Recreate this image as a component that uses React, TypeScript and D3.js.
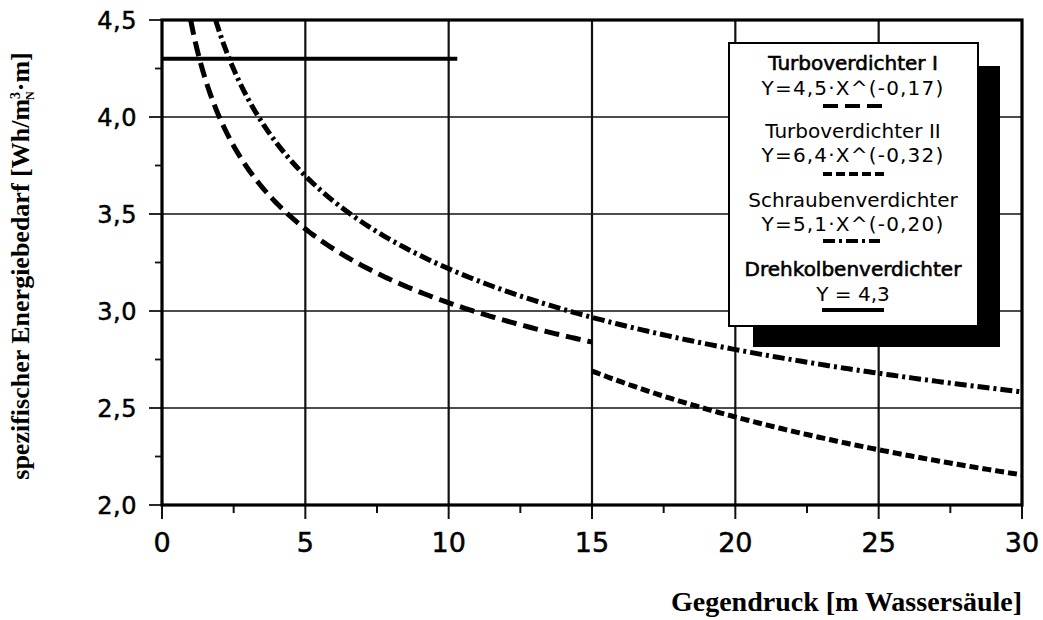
import React from "react";
import * as d3 from "d3";

// Axis ticks
const xTickValues = [0, 5, 10, 15, 20, 25, 30];
const xTickLabels = ["0", "5", "10", "15", "20", "25", "30"];
const xMinorTicks = [2.5, 7.5, 12.5, 17.5, 22.5, 27.5];
const yTickValues = [2.0, 2.5, 3.0, 3.5, 4.0, 4.5];
const yTickLabels = ["2,0", "2,5", "3,0", "3,5", "4,0", "4,5"];
const yMinorTicks = [2.25, 2.75, 3.25, 3.75, 4.25];

// Compressor fits Y = a · X^b, each valid over its own pressure range
const seriesNames = ["Turboverdichter I", "Turboverdichter II", "Schraubenverdichter"];
const seriesCoeff = [4.5, 6.4, 5.1];
const seriesExponent = [-0.17, -0.32, -0.2];
const seriesStart = [1.0, 15, 1.87];
const seriesEnd = [15, 30, 30];
const seriesDash = ["15 7", "9 4", "12 4 3 4"];
const seriesFormula = ["Y=4,5·X^(-0,17)", "Y=6,4·X^(-0,32)", "Y=5,1·X^(-0,20)"];

// Rotary lobe blower: constant demand up to about 10 m
const drehkolbenName = "Drehkolbenverdichter";
const drehkolbenFormula = "Y = 4,3";
const drehkolbenValue = 4.3;
const drehkolbenEnd = 10.3;

const W = 1043;
const H = 620;

export default function App() {
  const x = d3.scaleLinear().domain([0, 30]).range([162, 1022]);
  const y = d3.scaleLinear().domain([2.0, 4.5]).range([505, 20]);
  const line = d3
    .line<[number, number]>()
    .x((d) => x(d[0]))
    .y((d) => y(d[1]))
    .curve(d3.curveLinear);

  const curves = seriesNames.map((name, i) => {
    const n = 200;
    const pts: [number, number][] = [];
    for (let k = 0; k <= n; k++) {
      const xv = seriesStart[i] + ((seriesEnd[i] - seriesStart[i]) * k) / n;
      pts.push([xv, seriesCoeff[i] * Math.pow(xv, seriesExponent[i])]);
    }
    return { name, d: line(pts) as string, dash: seriesDash[i] };
  });

  const [x0, x1] = x.range();
  const [yb, yt] = y.range();
  const sans = "'DejaVu Sans', sans-serif";
  const serif = "'Liberation Serif', 'Times New Roman', serif";

  return (
    <div style={{ position: "fixed", left: 0, top: 0 }}>
      <svg width={W} height={H} viewBox={`0 0 ${W} ${H}`} style={{ display: "block", background: "#fff" }}>
        <rect x={0} y={0} width={W} height={H} fill="#fff" />
        <defs>
          <clipPath id="plot-clip">
            <rect x={x0} y={yt} width={x1 - x0} height={yb - yt} />
          </clipPath>
        </defs>

        {/* horizontal grid */}
        {yTickValues.slice(1, -1).map((v) => (
          <line key={"gy" + v} x1={x0} x2={x1} y1={y(v)} y2={y(v)} stroke="#111" strokeWidth={1.6} />
        ))}
        {/* vertical grid */}
        {xTickValues.slice(1, -1).map((v) => (
          <line key={"gx" + v} x1={x(v)} x2={x(v)} y1={yt} y2={yb} stroke="#111" strokeWidth={2.2} />
        ))}

        {/* major / minor ticks */}
        {yTickValues.map((v) => (
          <line key={"ty" + v} x1={x0 - 13} x2={x0} y1={y(v)} y2={y(v)} stroke="#111" strokeWidth={1.8} />
        ))}
        {yMinorTicks.map((v) => (
          <line key={"tym" + v} x1={x0 - 7} x2={x0} y1={y(v)} y2={y(v)} stroke="#111" strokeWidth={1.8} />
        ))}
        {xTickValues.map((v) => (
          <line key={"tx" + v} x1={x(v)} x2={x(v)} y1={yb} y2={yb + 14} stroke="#111" strokeWidth={2} />
        ))}
        {xMinorTicks.map((v) => (
          <line key={"txm" + v} x1={x(v)} x2={x(v)} y1={yb} y2={yb + 8} stroke="#111" strokeWidth={2} />
        ))}

        {/* data */}
        <g clipPath="url(#plot-clip)">
          {curves.map((c) => (
            <path key={c.name} d={c.d} fill="none" stroke="#000" strokeWidth={5} strokeDasharray={c.dash} />
          ))}
          <line
            x1={x(0)}
            x2={x(drehkolbenEnd)}
            y1={y(drehkolbenValue)}
            y2={y(drehkolbenValue)}
            stroke="#000"
            strokeWidth={4}
          />
        </g>

        {/* frame */}
        <rect x={x0} y={yt} width={x1 - x0} height={yb - yt} fill="none" stroke="#000" strokeWidth={3.2} />

        {/* tick labels */}
        {yTickValues.map((v, i) => (
          <text
            key={"ly" + v}
            x={137}
            y={y(v)}
            dy="0.36em"
            textAnchor="end"
            fontFamily={sans}
            fontSize={24}
            letterSpacing={0.5}
            fill="#000"
            stroke="#000"
            strokeWidth={0.5}
          >
            {yTickLabels[i]}
          </text>
        ))}
        {xTickValues.map((v, i) => (
          <text
            key={"lx" + v}
            x={x(v)}
            y={552}
            textAnchor="middle"
            fontFamily={sans}
            fontSize={27}
            fill="#000"
            stroke="#000"
            strokeWidth={0.5}
          >
            {xTickLabels[i]}
          </text>
        ))}

        {/* axis titles */}
        <text x={1022} y={611} textAnchor="end" fontFamily={serif} fontWeight="bold" fontSize={28} fill="#000">
          Gegendruck [m Wassersäule]
        </text>
        <text
          transform="translate(29,266) rotate(-90)"
          textAnchor="middle"
          fontFamily={serif}
          fontWeight="bold"
          fontSize={26}
          fill="#000"
        >
          spezifischer Energiebedarf [Wh/m
          <tspan dy={-9} fontSize={14}>3</tspan>
          <tspan dx={-8} dy={14} fontSize={12}>N</tspan>
          <tspan dy={-5}>·m]</tspan>
        </text>

        {/* legend */}
        <rect x={753} y={66} width={247} height={281} fill="#000" />
        <rect x={729} y={43} width={249} height={283} fill="#fff" stroke="#000" strokeWidth={2} />
        <g fontFamily={sans} fontSize={20} fill="#000" textAnchor="middle">
          <text x={853} y={70} stroke="#000" strokeWidth={0.6}>{seriesNames[0]}</text>
          <text x={853} y={95} letterSpacing={1.2}>{seriesFormula[0]}</text>
          <text x={853} y={138}>{seriesNames[1]}</text>
          <text x={853} y={162} letterSpacing={1.2}>{seriesFormula[1]}</text>
          <text x={853} y={207}>{seriesNames[2]}</text>
          <text x={853} y={231} letterSpacing={1.2}>{seriesFormula[2]}</text>
          <text x={853} y={276} stroke="#000" strokeWidth={0.6}>{drehkolbenName}</text>
          <text x={853} y={301}>{drehkolbenFormula}</text>
        </g>
        <line x1={823} x2={884} y1={106} y2={106} stroke="#000" strokeWidth={4} strokeDasharray={seriesDash[0]} />
        <line x1={823} x2={884} y1={174} y2={174} stroke="#000" strokeWidth={4} strokeDasharray={seriesDash[1]} />
        <line x1={823} x2={880} y1={241} y2={241} stroke="#000" strokeWidth={4} strokeDasharray={seriesDash[2]} />
        <line x1={822} x2={884} y1={310} y2={310} stroke="#000" strokeWidth={4} />
      </svg>
    </div>
  );
}
